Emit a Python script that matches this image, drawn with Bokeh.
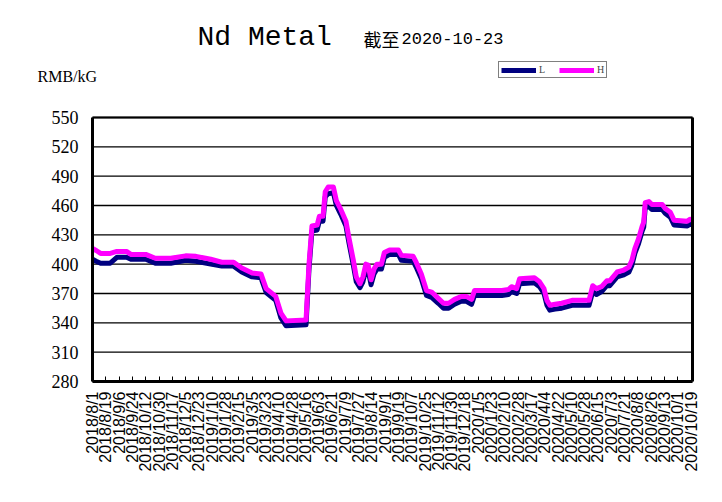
import math
from bokeh.plotting import figure
from bokeh.models import Range1d, FixedTicker, Label, Legend, LegendItem
from bokeh.embed import file_html
from bokeh.resources import INLINE

# Days since 2018/8/1 (breakpoints of the price series)
day = [0, 5, 11, 24, 33, 46, 52, 72, 85, 106, 126, 140, 160, 175, 191, 202, 216, 228,
       235, 248, 255, 262, 289, 293, 297, 304, 307, 312, 315, 319, 326, 330, 336, 343,
       347, 353, 357, 362, 366, 370, 373, 377, 381, 385, 391, 395, 402, 414, 418, 434,
       438, 445, 452, 459, 468, 475, 482, 490, 499, 506, 513, 517, 554, 563, 567, 574,
       578, 598, 605, 611, 615, 619, 626, 635, 649, 672, 677, 682, 689, 696, 700, 710,
       719, 726, 730, 734, 739, 744, 746, 748, 753, 757, 771, 775, 782, 787, 805, 809, 812]

price_H = [416, 414, 411, 411, 413, 413, 410, 410, 406, 406, 408.5, 408, 405, 402, 402, 396, 391, 390,
           375, 367, 350, 342, 343, 400, 439, 440, 449, 449, 474, 479, 479, 465, 456, 444,
           427, 404, 387, 380, 387, 400, 399, 384, 395, 400, 400, 412, 414.5, 414.5, 409, 408,
           402, 390, 373, 371.5, 365, 360, 360, 364, 367, 367, 364, 373, 373, 374, 377, 375,
           385, 386, 382, 375, 363, 358, 359, 360, 363, 363, 378, 375, 377, 383, 383, 392,
           394, 397, 404, 416, 426, 439, 443, 463, 464, 461, 461, 457, 453, 445, 444, 446, 445]

price_L = [405, 403, 401, 401, 407, 407, 405, 405, 401, 401, 404, 403, 400, 398, 398, 392, 387, 386,
           371, 363, 345, 337, 338, 395, 434, 435, 444, 444, 469, 472, 473, 460, 451, 439,
           422, 399, 382, 376, 382, 395, 394, 379, 390, 395, 395, 407, 410, 410, 404, 403,
           397, 385, 368, 366, 360, 355, 355, 359, 362, 362, 359, 368, 368, 369, 372, 370,
           380, 381, 377, 370, 358, 353, 354, 355, 358, 358, 372, 369, 372, 378, 378, 387,
           389, 392, 399, 411, 421, 434, 438, 458, 459, 456, 456, 452, 448, 440, 439, 441, 440]

tick_days = list(range(0, 811, 18))
tick_labels = ["2018/8/1", "2018/8/19", "2018/9/6", "2018/9/24", "2018/10/12", "2018/10/30",
               "2018/11/17", "2018/12/5", "2018/12/23", "2019/1/10", "2019/1/28", "2019/2/15",
               "2019/3/5", "2019/3/23", "2019/4/10", "2019/4/28", "2019/5/16", "2019/6/3",
               "2019/6/21", "2019/7/9", "2019/7/27", "2019/8/14", "2019/9/1", "2019/9/19",
               "2019/10/7", "2019/10/25", "2019/11/12", "2019/11/30", "2019/12/18", "2020/1/5",
               "2020/1/23", "2020/2/10", "2020/2/28", "2020/3/17", "2020/4/4", "2020/4/22",
               "2020/5/10", "2020/5/28", "2020/6/15", "2020/7/3", "2020/7/21", "2020/8/8",
               "2020/8/26", "2020/9/13", "2020/10/1", "2020/10/19"]
y_ticks = [280, 310, 340, 370, 400, 430, 460, 490, 520, 550]

L_COLOR = "#000080"
H_COLOR = "#FF00FF"

W, H = 722, 502
# plot area (canvas px) and data extent
PA_LEFT, PA_RIGHT, PA_TOP, PA_BOTTOM = 92, 692, 117, 381
X0, X1 = 0, 812
Y0, Y1 = 280, 550
# the frame is extended around the plot area so that no text is clipped
FR_LEFT, FR_RIGHT, FR_TOP, FR_BOTTOM = 20, 714, 5, 500
kx = (X1 - X0) / (PA_RIGHT - PA_LEFT)
ky = (Y1 - Y0) / (PA_BOTTOM - PA_TOP)


def dx(cx):
    return X0 + (cx - PA_LEFT) * kx


def dy(cy):
    return Y0 + (PA_BOTTOM - cy) * ky


p = figure(width=W, height=H, output_backend="svg", toolbar_location=None,
           x_range=Range1d(dx(FR_LEFT), dx(FR_RIGHT)), y_range=Range1d(dy(FR_BOTTOM), dy(FR_TOP)),
           min_border_left=FR_LEFT, min_border_right=W - FR_RIGHT,
           min_border_top=FR_TOP, min_border_bottom=H - FR_BOTTOM)
p.background_fill_color = "white"
p.border_fill_color = "white"
p.outline_line_color = None
p.grid.visible = False

# horizontal grid lines across the plot area only
p.segment(x0=X0, x1=X1, y0=y_ticks, y1=y_ticks, line_color="black", line_width=1.3)

ya = p.yaxis[0]
ya.fixed_location = X0
ya.bounds = (Y0, Y1)
ya.ticker = FixedTicker(ticks=y_ticks)
ya.major_tick_in = 0
ya.major_tick_out = 0
ya.minor_tick_line_color = None
ya.axis_line_width = 3
ya.major_label_text_font = "Liberation Serif"
ya.major_label_text_font_size = "18px"
ya.major_label_text_color = "black"
ya.major_label_standoff = 14

xa = p.xaxis[0]
xa.fixed_location = Y0
xa.bounds = (X0, X1)
xa.ticker = FixedTicker(ticks=tick_days)
xa.major_label_overrides = {d: s for d, s in zip(tick_days, tick_labels)}
xa.major_label_orientation = math.pi / 2
xa.major_tick_in = 5
xa.major_tick_out = 0
xa.major_tick_line_width = 1
xa.minor_tick_line_color = None
xa.axis_line_width = 3
xa.major_label_text_font = "Liberation Sans"
xa.major_label_text_font_size = "16px"
xa.major_label_text_color = "black"
xa.major_label_standoff = 10

rL = p.line(day, price_L, line_color=L_COLOR, line_width=5, line_join="round")
rH = p.line(day, price_H, line_color=H_COLOR, line_width=5, line_join="round")

# plot-area border: top and right
p.segment(x0=[X0], x1=[X1], y0=[Y1], y1=[Y1], line_color="black", line_width=2)
p.segment(x0=[X1], x1=[X1], y0=[Y0], y1=[Y1], line_color="black", line_width=3)

legend = Legend(items=[LegendItem(label="L", renderers=[rL]), LegendItem(label="H", renderers=[rH])],
                orientation="horizontal", location=(498 - FR_LEFT, FR_BOTTOM - 78),
                glyph_width=35, glyph_height=10, label_width=6, label_height=10,
                label_standoff=3, spacing=14, padding=2, margin=0,
                label_text_font="Liberation Serif", label_text_font_size="10px",
                border_line_color="black", border_line_width=1, background_fill_alpha=1)
p.add_layout(legend)

p.add_layout(Label(x=dx(197), y=dy(37), text="Nd Metal", text_font="Liberation Mono",
                   text_font_size="28px", text_baseline="alphabetic", text_color="black"))
p.add_layout(Label(x=dx(363), y=dy(38), text="截至", text_font="Noto Sans CJK SC",
                   text_font_size="18px", text_baseline="alphabetic", text_color="black"))
p.add_layout(Label(x=dx(401), y=dy(38), text="2020-10-23", text_font="Liberation Mono",
                   text_font_size="17px", text_baseline="alphabetic", text_color="black"))
p.add_layout(Label(x=dx(37), y=dy(76), text="RMB/kG", text_font="Liberation Serif",
                   text_font_size="16px", text_baseline="alphabetic", text_color="black"))

open("out.html", "w").write(file_html(p, INLINE))
